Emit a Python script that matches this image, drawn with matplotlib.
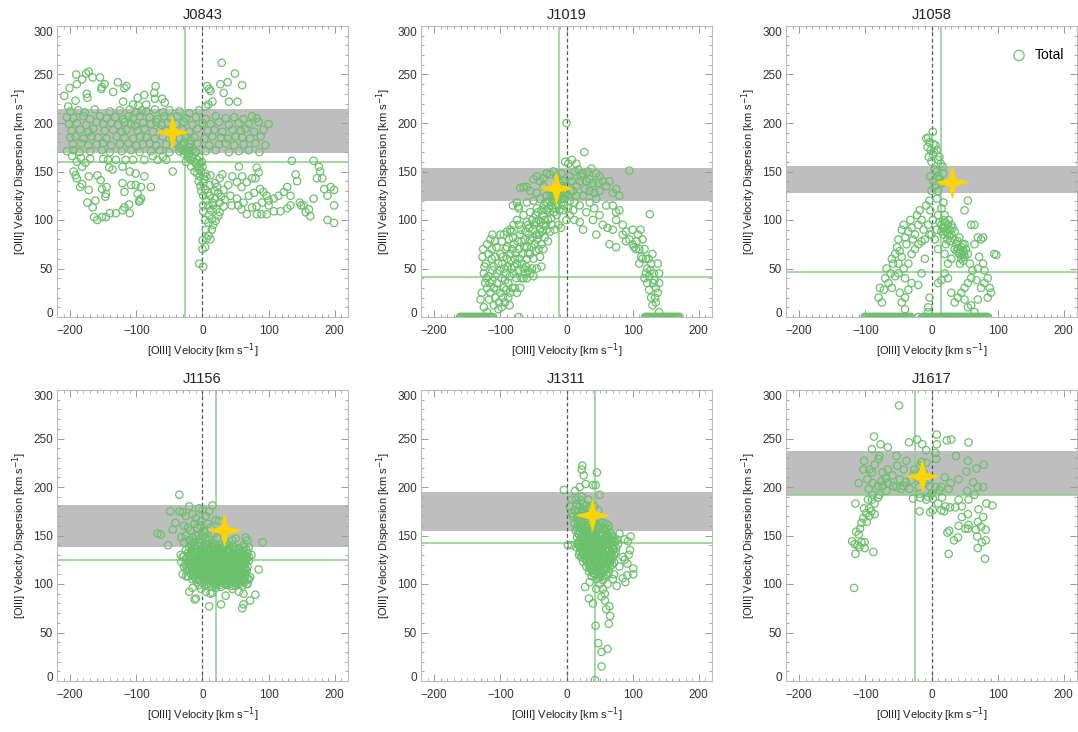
import matplotlib
matplotlib.use('Agg')
import matplotlib.pyplot as plt
from matplotlib.path import Path
from matplotlib.transforms import ScaledTranslation
from matplotlib.ticker import MultipleLocator

plt.rcParams['font.family'] = ['Liberation Sans', 'DejaVu Sans']

# ---------------- data (velocity, dispersion) ----------------
names = ['J0843', 'J1019', 'J1058', 'J1156', 'J1311', 'J1617']

j0843_points = [
    (-209,228),(-201,236),(-191,250),(-190,240),(-192,223),(-203,217),(-182,245),(-176,251),(-172,253),
    (-175,230),(-174,226),(-166,247),(-155,247),(-152,237),(-153,235),(-148,240),(-135,232),(-128,242),
    (-118,236),(-115,238),(-88,229),(-73,231),(-71,238),(-72,225),(-61,225),(-57,221),(-97,218),(-85,219),
    (-105,219),(-120,222),(-98,226),
    (29,262),(49,251),(38,242),(27,240),(7,238),(10,235),(12,233),(60,239),(32,231),(40,222),(53,222),
    (15,222),(5,217),(9,219),
    (-200,212),(-188,213),(-178,211),(-163,214),(-140,212),(-125,213),(-110,214),(-100,211),(-92,213),
    (-85,212),(-72,214),(-60,211),(-50,213),(-35,212),(-20,210),(-5,213),
    (-205,206),(-195,205),(-180,207),(-170,204),(-155,207),(-145,205),(-132,206),(-120,204),(-112,207),
    (-105,205),(-95,207),(-80,206),(-68,204),(-58,207),(-48,205),(-38,207),(-25,205),(-10,206),(5,204),
    (20,207),(35,205),(48,206),(62,204),(75,207),(82,205),
    (-202,199),(-190,200),(-176,198),(-160,201),(-150,199),(-138,200),(-128,198),(-118,201),(-108,199),
    (-102,197),(-90,200),(-78,199),(-70,201),(-62,198),(-52,200),(-40,199),(-28,201),(-15,198),(0,200),
    (12,199),(25,201),(40,198),(55,200),(70,199),(85,201),(100,199),
    (-198,192),(-185,193),(-172,191),(-165,194),(-148,192),(-135,193),(-122,191),(-115,193),(-98,192),
    (-88,194),(-75,191),(-64,193),(-55,192),(-30,193),(-20,191),(-8,194),(8,192),(18,193),(30,191),
    (45,193),(58,192),(65,194),(78,191),(92,193),
    (-200,185),(-192,186),(-180,184),(-168,186),(-158,185),(-145,184),(-130,186),(-118,185),(-105,184),
    (-94,186),(-85,185),(-72,184),(-60,186),(-45,185),(-35,184),(-25,186),(-12,185),(3,184),(15,186),
    (28,185),(38,184),(50,186),(60,185),(72,184),(88,186),
    (-196,178),(-183,179),(-173,177),(-160,178),(-150,179),(-138,177),(-125,178),(-112,179),(-100,177),
    (-90,178),(-80,179),(-70,177),(-55,178),(-42,179),(-30,177),(-18,178),(-8,179),(10,177),(25,178),
    (35,179),(48,177),(62,178),(80,179),(95,177),
    (-205,171),(-195,172),(-186,170),(-170,171),(-152,172),(-140,170),(-122,171),(-108,172),(-95,170),
    (-78,171),(-65,172),(-50,170),(-35,171),(-22,172),(-10,170),(5,171),(20,172),(40,170),(55,171),
    (70,172),(86,170),
    (-35,175),(-30,172),(-28,168),(-25,170),(-22,165),(-20,168),(-18,162),(-15,165),(-12,160),(-10,158),
    (-8,162),(-6,155),(-5,152),(-3,158),(-2,150),(-15,172),(-10,170),(-5,165),(-20,175),(-8,148),
    (-4,145),(-1,160),(0,155),(-25,160),(-17,155),(-12,150),(-28,180),(-18,182),
    (-197,166),(-184,164),(-177,159),(-182,155),(-170,163),(-192,146),(-190,143),(-182,137),(-185,134),
    (-172,145),(-172,131),(-159,146),(-154,141),(-152,132),(-145,134),(-146,127),(-147,124),(-174,118),
    (-166,113),(-164,103),(-159,100),(-152,103),(-146,103),(-140,107),(-131,107),(-121,110),(-118,113),
    (-110,107),(-111,116),(-98,127),(-95,120),(-93,134),(-101,136),(-108,136),(-118,129),(-121,138),
    (-136,152),(-131,162),(-143,162),(-141,154),(-150,163),(-116,162),(-105,162),(-121,155),(-101,148),
    (-88,145),(-78,134),(-88,162),(-75,166),(-68,162),(-55,162),(-45,150),(-60,165),(-110,150),
    (-96,119),(-93,122),(-162,120),(-190,160),(-195,150),
    (-5,55),(1,52),(0,70),(4,72),(0,79),(6,81),(9,84),(14,90),(16,95),(20,99),(24,104),(14,101),(9,97),
    (4,100),(1,109),(1,115),(9,115),(16,115),(21,111),(26,108),(19,122),(11,125),(1,125),(4,132),
    (11,136),(19,138),(26,143),(6,145),(12,146),(1,138),(4,148),(30,147),(39,136),(32,131),(42,125),
    (34,121),(26,118),(32,114),(18,130),(24,128),(10,105),(5,90),(12,80),
    (52,139),(59,134),(67,139),(75,143),(82,154),(85,149),(80,143),(70,125),(78,128),(87,132),(92,129),
    (97,125),(100,120),(108,122),(115,125),(123,129),(128,134),(133,125),(141,147),(135,161),(143,140),
    (147,118),(153,115),(161,111),(168,122),(168,161),(176,155),(178,150),(173,143),(181,143),(184,132),
    (189,125),(194,134),(199,131),(199,115),(189,100),(199,97),(163,104),(156,108),(149,115),(133,115),
    (128,112),(118,109),(108,109),(97,106),(89,106),(82,106),(67,106),(62,118),(54,115),(52,122),
    (44,115),(59,111),(75,113),(82,114),(90,118),(100,115),(60,145),(45,145),(55,155),
    (-6,140),(-3,135),(2,142),(8,128),(15,118),(22,134),(28,124),(-2,130),(6,120),(13,110),
]

j1019_points = [
    (-130,18),(-128,25),(-125,10),(-123,35),(-125,45),(-127,62),(-126,70),(-122,55),(-120,75),(-118,65),
    (-115,80),(-113,60),(-112,48),(-118,42),(-120,30),(-115,25),(-110,30),(-108,20),(-105,35),(-105,45),
    (-110,52),(-102,15),(-100,25),(-98,40),(-95,30),(-97,55),(-100,65),(-98,78),(-95,85),(-92,70),
    (-90,60),(-92,45),(-88,35),(-85,25),(-83,50),(-85,65),(-87,80),(-83,88),(-80,75),(-78,60),(-80,45),
    (-76,40),(-75,55),(-72,70),(-70,85),(-72,95),(-68,78),(-66,65),(-65,50),(-68,40),(-62,45),(-60,60),
    (-60,72),(-62,88),(-58,95),(-55,80),(-55,65),(-52,50),(-50,60),(-48,75),(-50,90),(-52,100),(-47,105),
    (-45,85),(-42,70),(-40,62),(-38,75),(-40,90),(-42,100),(-38,110),(-35,95),(-33,82),(-30,90),(-28,100),
    (-30,110),(-32,118),(-25,108),(-22,95),(-20,112),(-18,120),(-15,105),(-12,115),(-10,125),(-8,118),
    (-5,110),(-3,122),(-8,92),(-12,95),(-18,90),(-25,88),(-28,78),(-35,70),(-45,50),(-55,45),(-60,40),
    (-70,30),(-75,25),(-78,30),(-88,20),(-93,15),(-98,10),(-110,12),(-120,5),(-72,0),
    (-70,133),(-65,134),(-60,134),(-50,142),(-45,145),(-40,140),(-35,143),(-30,148),(-25,147),(-20,150),
    (-15,145),(-8,148),(-35,135),(-45,128),(-55,130),(-25,128),(-10,138),(-5,130),(-50,120),(-40,122),
    (-30,125),(-20,130),(-60,118),(-72,112),(-65,105),(-55,108),(-45,112),(-75,100),(-80,95),(-85,90),
    (-90,88),(-100,85),(-108,78),(-112,85),(-60,98),(-81,115),(-73,114),(-75,118),
    (-124,52),(-121,40),(-116,35),(-113,70),(-108,62),(-106,72),(-103,55),(-101,48),(-96,62),(-94,50),
    (-93,38),(-90,72),(-89,52),(-86,42),(-84,58),(-82,70),(-81,82),(-79,52),(-77,66),(-74,78),(-73,48),
    (-71,60),(-69,90),(-67,55),(-64,72),(-63,80),(-61,52),(-58,66),(-57,85),(-56,92),(-53,72),(-51,82),
    (-49,95),(-47,68),(-46,98),(-44,80),(-43,108),(-41,85),(-39,98),(-37,88),(-36,105),(-34,115),(-33,100),
    (-31,95),(-29,118),(-27,112),(-26,120),(-24,115),(-23,102),(-21,125),(-19,108),(-17,128),(-16,115),
    (-14,122),(-13,132),(-11,110),(-9,128),(-7,135),(-6,122),(-4,115),(-2,128),(-106,28),(-103,8),
    (-96,20),(-91,28),(-86,12),(-82,30),(-117,18),(-112,38),(-65,40),(-58,48),(-50,42),(-38,52),
    (3,158),(8,162),(15,158),(27,170),(12,150),(18,152),(25,148),(32,150),(38,153),(45,148),(50,145),
    (55,140),(60,135),(65,140),(75,132),(80,125),(95,151),(20,140),(30,140),(40,138),(50,130),(70,128),
    (10,130),(5,120),(15,125),(25,125),(35,118),(45,122),(60,115),(5,105),(10,110),(20,115),(30,108),
    (40,100),(50,105),(55,95),(62,92),(70,90),(75,100),(80,110),(85,95),(90,88),(95,80),(100,75),
    (105,70),(108,85),(112,90),(115,80),(118,70),(120,60),(122,50),(125,42),(128,55),(130,65),(126,106),
    (132,45),(135,30),(138,25),(140,35),(133,38),(128,20),(125,28),(130,12),(135,15),(140,5),(115,60),
    (110,55),(120,45),(122,35),(118,40),(140,45),(138,55),(12,100),(20,98),(0,100),(25,90),(45,85),
    (65,75),(75,72),(85,85),(90,78),(100,90),(0,200),(-2,160),(5,145),(-5,140),(0,135),(2,125),
    (35,130),(42,112),(70,115),(75,108),(8,140),(15,135),(22,145),(28,132),(35,142),(42,128),(48,138),
    (2,112),(6,130),(12,118),(102,72),(106,78),(110,70),(113,62),(124,60),(127,48),(131,35),(134,20),
]
j1019_zero_vel = [-161,-159,-157,-155,-153,-151,-149,-147,-145,-143,-141,-139,-137,-135,-133,-131,-129,
                  -127,-125,-123,-121,-119,-117,-115,-113,-111,
                  119,121,123,125,127,129,131,133,135,137,139,141,143,145,147,149,151,153,155,157,159,161,
                  163,165,167,169,171]

j1058_points = [
    (2,191),(-5,185),(-3,180),(6,177),(-1,172),(4,170),(-8,184),(3,178),(-6,175),(8,172),(2,168),(12,165),
    (10,162),(0,160),(14,158),(17,155),(5,152),(8,150),(18,148),(10,145),(-2,145),(3,140),(12,142),
    (15,138),(5,135),(10,130),(0,130),(-3,120),(8,122),(15,112),(18,118),(10,105),(2,100),(-4,165),
    (-80,20),(-78,30),(-75,15),(-72,28),(-70,40),(-68,50),(-65,35),(-62,45),(-60,60),(-58,55),(-55,65),
    (-52,72),(-50,80),(-48,68),(-45,90),(-42,95),(-40,82),(-38,75),(-35,88),(-32,100),(-30,92),(-28,80),
    (-25,85),(-22,105),(-20,95),(-18,110),(-15,100),(-12,90),(-10,80),(-8,115),(-5,95),(-3,85),(-2,110),
    (-50,55),(-45,62),(-42,50),(-40,40),(-35,55),(-30,65),(-25,70),(-20,75),(-15,78),(-10,60),(-45,15),
    (-40,20),(-35,28),(-30,35),(-20,33),(-15,45),(-60,30),(-55,42),(-50,45),(-48,25),(-40,8),(-5,10),
    (-3,20),(-5,5),
    (15,95),(18,100),(20,92),(22,88),(25,95),(28,90),(30,85),(18,85),(24,80),(32,92),(35,88),(15,88),
    (20,105),(12,98),(26,100),(28,78),(22,75),(17,92),(21,97),(24,86),(27,84),(30,95),
    (38,75),(40,70),(42,65),(45,72),(48,68),(50,62),(45,60),(40,78),(52,70),(48,58),(43,55),(38,68),
    (55,65),(50,75),(42,82),(35,80),(35,70),(41,66),(44,69),(46,64),(47,75),(49,65),
    (55,120),(50,110),(60,95),(65,95),(70,82),(75,80),(78,82),(65,75),(72,62),(78,55),(80,48),(85,40),
    (88,30),(90,25),(95,65),(98,64),(70,50),(62,48),(60,40),(55,35),(50,30),(45,25),(40,20),(35,15),
    (50,18),(55,10),(60,12),(65,5),(70,18),(75,30),(80,35),(85,20),(68,38),(58,55),(30,60),(25,55),
    (20,45),(15,38),(10,35),(25,40),(30,25),(20,65),(10,70),(5,80),(0,85),(8,90),
]
j1058_zero_vel = [-101,-99,-97,-95,-93,-91,-89,-87,-85,-83,-81,-79,-77,-75,-73,-71,-69,-67,-65,-63,-61,-59,
                  -57,-55,-53,-51,-49,-47,-45,-43,-41,-39,-37,-35,-33,-31,-20,
                  -13,-11,-9,-7,-5,-3,-1,1,3,5,7,9,11,13,15,17,19,21,23,25,27,29,31,33,35,37,39,41,43,45,
                  47,49,51,53,55,57,59,61,63,65,67,69,71,73,75,77,79,81,83,85]

j1156_points = [
    (-35,192),(-49,175),(-45,156),(-41,163),(-68,152),(-63,151),(-52,140),(-35,175),(-30,174),(-25,170),
    (-20,180),(-15,172),(-10,168),(-5,178),(0,176),(5,170),(10,175),(15,181),(20,166),(25,165),(-28,160),
    (-22,158),(-18,155),(-12,162),(-8,158),(-3,160),(2,155),(8,162),(12,158),(18,152),(22,148),(-25,150),
    (-20,145),(-15,148),(-10,150),(-5,146),(0,150),(5,148),(10,145),(15,142),(20,140),(28,140),(35,143),
    (40,140),(45,145),(50,147),(65,148),(68,145),(62,140),(70,138),(91,143),(-32,148),(-28,143),(-2,165),
    (-8,140),(-30,128),(-32,123),(-28,118),(-33,130),
    (-20,138),(-11,137),(-5,139),(3,138),(9,136),(16,138),(24,137),(33,139),(41,137),(47,138),(56,136),(63,138),
    (-25,135),(-17,134),(-9,136),(-2,135),(6,134),(12,136),(19,134),(23,135),(29,133),(36,135),(42,134),
    (51,135),(57,133),(66,135),
    (-22,132),(-14,131),(-8,133),(1,132),(7,130),(14,132),(21,131),(27,133),(34,131),(40,132),(47,130),
    (53,132),(61,131),(68,132),
    (-28,129),(-21,128),(-12,130),(-4,129),(3,127),(11,129),(17,128),(25,130),(31,128),(37,129),(44,127),
    (50,129),(57,128),(64,130),(70,128),
    (-25,126),(-17,125),(-10,127),(-1,126),(5,124),(12,126),(20,125),(26,127),(33,125),(41,126),(47,124),
    (54,126),(61,125),(67,127),
    (-22,123),(-15,122),(-7,124),(1,123),(8,121),(15,123),(22,122),(29,124),(36,122),(43,123),(50,121),
    (56,123),(62,122),(70,124),
    (-26,120),(-18,119),(-10,121),(-3,120),(4,118),(11,120),(18,119),(25,121),(32,119),(39,120),(46,118),
    (52,120),(58,119),(65,121),
    (-20,117),(-13,116),(-6,118),(1,117),(8,115),(15,117),(22,116),(29,118),(36,116),(43,117),(50,115),
    (57,117),(63,116),(68,118),
    (-24,114),(-16,113),(-8,115),(0,114),(7,112),(14,114),(21,113),(28,115),(35,113),(42,114),(48,112),
    (55,114),(61,113),
    (-18,111),(-10,110),(-2,112),(5,111),(12,109),(19,111),(26,110),(33,112),(40,110),(47,111),(54,109),
    (60,111),(66,110),
    (-22,108),(-12,107),(-4,109),(4,108),(11,106),(18,108),(25,107),(32,109),(39,107),(46,108),(52,106),
    (58,108),(64,107),
    (-15,105),(-6,104),(2,106),(10,105),(17,103),(24,105),(31,104),(38,106),(45,104),(52,105),(58,103),(68,105),
    (-8,102),(0,101),(8,103),(15,102),(22,100),(30,102),(38,101),(45,103),(53,101),(60,102),(67,100),
    (-5,99),(5,98),(12,100),(20,99),(28,97),(36,99),(44,98),(52,100),(60,98),
    (-16,136),(-7,133),(0,137),(10,133),(17,135),(27,136),(37,133),(46,135),(53,137),(60,134),
    (-18,127),(-6,127),(8,128),(21,128),(30,126),(39,128),(49,127),(59,126),(66,129),
    (-20,121),(-13,124),(-1,122),(9,124),(19,122),(27,120),(35,124),(44,121),(54,123),(63,120),
    (-15,115),(-4,116),(10,116),(18,114),(25,115),(33,117),(41,115),(52,117),(60,115),(67,114),
    (-14,109),(0,108),(8,110),(15,110),(23,109),(30,107),(37,110),(44,109),(50,110),(57,109),
    (-10,105),(5,103),(13,104),(20,104),(27,102),(35,104),(42,102),(48,104),(55,106),(63,104),
    (-2,120),(6,126),(14,121),(24,118),(32,122),(44,125),(55,118),(-11,132),(3,129),(13,131),
    (-13,139),(-3,142),(5,141),(13,139),(20,136),(30,137),(38,136),(-19,130),(-9,129),(4,131),(16,130),
    (24,132),(33,128),(43,130),(54,130),(62,128),(-23,117),(-11,118),(-3,114),(5,115),(13,113),(26,113),
    (37,114),(46,114),(53,112),(64,111),(-7,112),(3,110),(16,107),(28,108),(36,107),(49,106),(56,111),
    (62,105),(-3,104),(7,100),(18,101),(26,99),(34,100),(42,100),(49,102),(57,100),(64,102),(9,141),
    (-6,150),(4,153),(-14,143),(-17,140),(20,123),(30,118),(40,123),(48,119),(59,122),(66,124),
    (-2,95),(5,92),(12,90),(15,91),(-10,85),(-12,84),(-15,96),(-20,92),(10,77),(28,79),(35,88),(45,95),
    (55,92),(62,90),(60,75),(62,79),(72,83),(80,89),(20,96),(50,98),(70,105),(72,107),(68,100),(-30,110),
    (-25,108),(65,115),(74,130),(85,115),
]

j1311_points = [
    (13,196),(20,200),(23,190),(33,187),(8,187),(14,187),(29,203),(40,202),(44,202),(24,222),(23,218),
    (26,212),(46,215),(-4,197),(50,192),(15,182),(20,180),(25,183),(30,181),(35,178),(12,176),(18,175),
    (24,174),(30,172),(42,180),(48,176),(10,170),(16,168),(22,167),(28,166),(34,165),(45,168),(50,165),
    (12,162),(18,160),(25,160),(32,158),(40,160),(48,158),(55,163),(60,162),(64,160),(14,155),(20,154),
    (28,153),(36,152),(44,152),(52,154),(58,155),(66,153),(70,150),(2,140),(8,173),(5,180),
    (16,148),(22,149),(28,147),(34,149),(40,148),(46,147),(52,149),(58,148),(64,147),(70,148),(76,146),
    (18,143),(24,144),(30,142),(36,143),(42,144),(48,142),(54,143),(60,144),(66,142),(72,143),(78,141),
    (15,138),(21,139),(27,137),(33,138),(39,139),(45,137),(51,138),(57,139),(63,137),(69,138),(75,137),
    (20,133),(26,134),(32,132),(38,133),(44,134),(50,132),(56,133),(62,134),(68,132),(74,133),
    (22,128),(28,129),(34,127),(40,128),(46,129),(52,127),(58,128),(64,129),(70,127),
    (25,123),(31,124),(37,122),(43,123),(49,124),(55,122),(61,123),(67,124),(72,122),
    (30,118),(36,119),(42,117),(48,118),(54,119),(60,117),(66,118),
    (34,113),(40,114),(46,112),(52,113),(58,114),(64,112),
    (38,108),(44,109),(50,107),(56,108),(62,109),
    (19,151),(25,150),(31,151),(37,155),(43,150),(49,151),(55,150),(61,151),(67,149),
    (21,146),(27,145),(33,146),(39,145),(45,146),(51,145),(57,146),(63,145),(69,145),(74,144),
    (17,141),(23,141),(29,140),(35,141),(41,141),(47,140),(53,141),(59,140),(65,140),(71,140),
    (23,136),(29,136),(35,135),(41,136),(47,135),(53,136),(59,135),(65,135),(71,135),
    (24,131),(30,131),(36,130),(42,131),(48,130),(54,131),(60,130),(66,130),(72,130),
    (27,126),(33,126),(39,125),(45,126),(51,125),(57,126),(63,125),(68,126),
    (33,121),(39,120),(45,121),(51,120),(57,121),(63,120),(69,120),
    (37,116),(43,115),(49,116),(55,115),(61,116),(42,111),(48,110),(54,111),(60,110),
    (17,165),(22,163),(28,170),(36,170),(20,158),(27,156),(34,161),(42,163),(52,160),
    (15,158),(23,157),(31,155),(39,157),(47,156),(56,158),(62,157),(17,152),(26,148),(35,147),(44,148),
    (54,146),(62,149),(20,138),(30,137),(40,138),(50,136),(60,137),(70,136),(26,132),(37,128),(47,132),
    (57,130),(67,128),(30,124),(41,127),(53,124),(65,122),(35,116),(46,118),(58,118),(40,111),(52,109),
    (46,105),(55,104),(18,170),(25,177),(32,176),(40,170),(22,186),
    (97,149),(93,144),(88,146),(80,152),(96,135),(94,130),(88,125),(92,121),(101,116),(101,110),(92,109),
    (85,106),(89,102),(76,98),(8,140),(19,130),(24,128),(35,102),(28,97),(34,85),(40,80),(53,87),(58,83),
    (65,77),(60,74),(66,67),(64,59),(44,57),(48,39),(53,30),(62,33),(53,15),(43,1),(45,95),(55,95),
    (62,100),(70,105),(72,110),(80,118),(85,128),(50,100),(58,90),
]

j1617_points = [
    (-49,284),(-87,252),(-34,246),(-22,249),(-14,244),(-8,238),(8,254),(8,244),(23,248),(30,249),(56,246),
    (-77,244),(-66,241),(-90,239),(6,235),(7,229),(37,232),(55,227),(79,223),(68,219),(53,216),(78,200),
    (70,200),(63,205),(54,196),(65,192),(41,208),(29,204),(20,210),(15,200),(6,200),(-3,201),(-10,204),
    (-19,200),(-8,225),(-17,222),(-26,218),(-38,227),(-53,232),(-52,222),(-42,218),(-48,208),(-39,205),
    (-31,207),(-59,212),(-66,218),(-74,215),(-79,232),(-80,229),(-86,223),(-94,218),(-90,215),(-102,227),
    (-103,218),(-97,208),(-110,204),(-89,204),(-81,201),(-74,201),(-66,204),(-58,201),(-46,198),(-33,198),
    (-28,188),(-17,189),(-8,187),(2,188),(-5,190),(16,189),(10,183),(21,180),(15,176),(19,175),(28,179),
    (36,179),(41,187),(46,180),(56,187),(55,172),(71,177),(78,169),(83,183),(92,181),(46,169),(41,160),
    (27,155),(24,153),(34,145),(40,148),(51,157),(56,161),(55,157),(67,156),(70,164),(75,159),(82,156),
    (69,149),(76,143),(82,145),(70,137),(81,126),(26,131),(-18,175),(-2,174),(-115,183),(-96,187),
    (-90,187),(-81,189),(-86,183),(-94,178),(-102,178),(-99,173),(-91,175),(-86,172),(-94,170),(-103,168),
    (-98,164),(-106,163),(-108,157),(-114,154),(-110,151),(-120,144),(-116,141),(-112,140),(-106,143),
    (-101,143),(-109,138),(-101,137),(-115,131),(-88,133),(-117,96),(-18,193),(-53,200),(-42,201),
    (-68,196),(-79,192),(-89,192),(-76,206),(-69,209),(-95,198),(0,193),(12,197),(26,198),(2,176),
    (-15,226),(-12,215),(-20,209),(-5,207),(-27,213),
]

all_points = [j0843_points, j1019_points, j1058_points, j1156_points, j1311_points, j1617_points]
zero_vel = [[], j1019_zero_vel, j1058_zero_vel, [], [], []]

band_low = [169, 120, 128, 138.5, 154.5, 191.5]
band_high = [214, 153.5, 156, 181.5, 195, 237.5]
star_vel = [-46, -16, 31, 32, 39, -14]
star_sig = [190.5, 133, 139.5, 156, 171, 211]
vline_vel = [-27, -12, 15, 20.5, 43, -25.5]
hline_sig = [160, 41.5, 46, 125, 142.5, 191.5]

# ---------------- style ----------------
GREEN = '#6cc06c'
LINE_GREEN = '#86cf86'
BAND = '#bebebe'
STAR = '#ffd400'

star_path = Path([(0, 1), (0.2, 0.2), (1, 0), (0.2, -0.2), (0, -1), (-0.2, -0.2), (-1, 0), (-0.2, 0.2), (0, 1)],
                 [Path.MOVETO] + [Path.LINETO] * 7 + [Path.CLOSEPOLY])

fig = plt.figure(figsize=(10.78, 7.32), dpi=100)
lefts = [57 / 1078, 421 / 1078, 786 / 1078]
bottoms = [(732 - 317) / 732, (732 - 681) / 732]
W, H = 291 / 1078, 291 / 732

for i, name in enumerate(names):
    ax = fig.add_axes([lefts[i % 3], bottoms[i // 3], W, H])
    ax.set_xlim(-220, 220)
    ax.set_ylim(0, 300)
    ax.axhspan(band_low[i], band_high[i], color=BAND, lw=0, zorder=1)
    xs = [p[0] for p in all_points[i]]
    ys = [p[1] for p in all_points[i]]
    sc = ax.scatter(xs, ys, s=28, facecolors='none', edgecolors=GREEN, linewidths=0.9, zorder=3,
                    label='Total')
    if zero_vel[i]:
        ax.scatter(zero_vel[i], [0] * len(zero_vel[i]), s=28, facecolors='none', edgecolors=GREEN,
                   linewidths=0.9, zorder=3)
    ax.axvline(vline_vel[i], color=LINE_GREEN, lw=1.1, zorder=2)
    ax.axhline(hline_sig[i], color=LINE_GREEN, lw=1.1, zorder=2)
    ax.axvline(0, color='#555555', lw=0.9, ls=(0, (3, 2)), zorder=2)
    ax.plot([star_vel[i]], [star_sig[i]], marker=star_path, ms=22, color=STAR, mec=STAR, ls='none', zorder=5)

    ax.set_title(name, fontsize=10.5, color='#222222', pad=5)
    ax.set_xlabel('[OIII] Velocity [km s$^{-1}$]', fontsize=8, color='#222222', labelpad=3)
    ax.set_ylabel('[OIII] Velocity Dispersion [km s$^{-1}$]', fontsize=8, color='#222222', labelpad=3)
    ax.set_xticks([-200, -100, 0, 100, 200])
    ax.set_yticks([0, 50, 100, 150, 200, 250, 300])
    ax.xaxis.set_minor_locator(MultipleLocator(10))
    ax.yaxis.set_minor_locator(MultipleLocator(10))
    ax.tick_params(which='both', direction='in', top=True, right=True, color='#999999',
                   labelcolor='#333333', labelsize=8.5)
    ax.tick_params(which='major', length=5, width=0.7)
    ax.tick_params(which='minor', length=2.5, width=0.6)
    ax.tick_params(axis='x', which='major', pad=6)
    ax.tick_params(axis='y', which='major', pad=3)
    for sp in ax.spines.values():
        sp.set_color('#bbbbbb')
        sp.set_linewidth(0.8)
    yt = ax.yaxis.get_major_ticks()
    yt[0].label1.set_transform(yt[0].label1.get_transform() + ScaledTranslation(0, 3 / 72, fig.dpi_scale_trans))
    yt[-1].label1.set_transform(yt[-1].label1.get_transform() + ScaledTranslation(0, -4 / 72, fig.dpi_scale_trans))

    if name == 'J1058':
        ax.legend(handles=[sc], labels=['Total'], loc='center left', bbox_to_anchor=(0.71, 0.9),
                  frameon=False, fontsize=10, handletextpad=0.1, markerscale=1.4)

fig.savefig('out.png', dpi=100)
